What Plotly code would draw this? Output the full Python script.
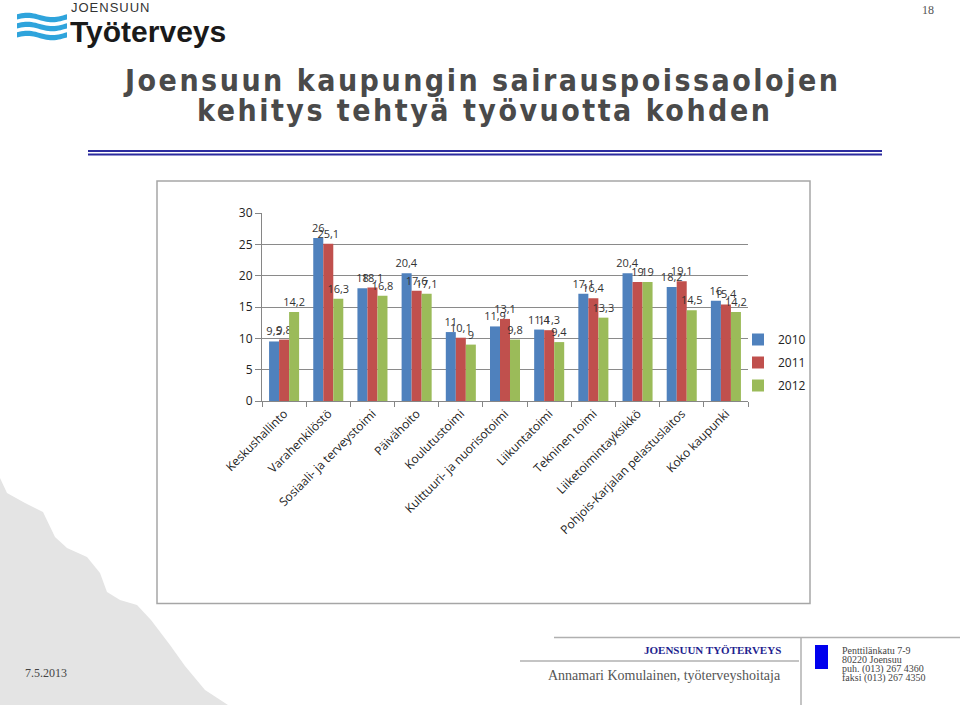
import math
import plotly.graph_objects as go

# ---------------- data ----------------
categories = [
    "Keskushallinto", "Varahenkilöstö", "Sosiaali- ja terveystoimi", "Päivähoito",
    "Koulutustoimi", "Kulttuuri- ja nuorisotoimi", "Liikuntatoimi", "Tekninen toimi",
    "Liiketoimintayksikkö", "Pohjois-Karjalan pelastuslaitos", "Koko kaupunki",
]
values_2010 = [9.5, 26, 18, 20.4, 11, 11.9, 11.4, 17.1, 20.4, 18.2, 16]
values_2011 = [9.8, 25.1, 18.1, 17.6, 10.1, 13.1, 11.3, 16.4, 19, 19.1, 15.4]
values_2012 = [14.2, 16.3, 16.8, 17.1, 9, 9.8, 9.4, 13.3, 19, 14.5, 14.2]
series_names = ["2010", "2011", "2012"]
series_colors = ["#4f81bd", "#c0504d", "#9bbb59"]
y_ticks = [0, 5, 10, 15, 20, 25, 30]

W, H = 960, 705
L, R, T, B = 262, 212, 213, 304
PW, PH = W - L - R, H - T - B


def fx(x):
    return (x - L) / PW


def fy(y):
    return (H - B - y) / PH


def fmt(v):
    return ("%g" % v).replace(".", ",")


fig = go.Figure()
for name, vals, col in zip(series_names, [values_2010, values_2011, values_2012], series_colors):
    fig.add_trace(go.Bar(
        x=categories, y=vals, name=name, legendgroup=name,
        marker=dict(color=col, line=dict(width=0)),
        text=[fmt(v) for v in vals], textposition="outside", textangle=0,
        constraintext="none", cliponaxis=False,
        textfont=dict(family="Open Sans", size=11, color="#333333"),
    ))

fig.update_layout(
    width=W, height=H, margin=dict(l=L, r=R, t=T, b=B, pad=0),
    paper_bgcolor="white", plot_bgcolor="white",
    barmode="group", bargap=0.32, bargroupgap=0,
    showlegend=True,
    legend=dict(x=fx(738), y=fy(325), xanchor="left", yanchor="top",
                font=dict(family="Open Sans", size=12, color="#222222"),
                tracegroupgap=4, bgcolor="rgba(0,0,0,0)"),
    xaxis=dict(showgrid=False, showline=True, linecolor="#868686", linewidth=1,
               ticks="outside", ticklen=5, tickcolor="#868686", tickson="boundaries",
               tickangle=-45, tickfont=dict(family="Open Sans", size=12, color="#222222")),
    yaxis=dict(range=[0, 30], tickvals=y_ticks, showgrid=True, gridcolor="#8a8a8a", gridwidth=1,
               showline=True, linecolor="#868686", linewidth=1, zeroline=False,
               ticks="outside", ticklen=6, tickcolor="#868686",
               tickfont=dict(family="Open Sans", size=12, color="#222222")),
)

shapes = []
annotations = []

# chart frame
shapes.append(dict(type="rect", xref="paper", yref="paper",
                   x0=fx(157), x1=fx(810), y0=fy(181), y1=fy(603.5),
                   line=dict(color="#a6a6a6", width=1.5), fillcolor="rgba(0,0,0,0)", layer="below"))

# header double line
for yy in (151, 154.5):
    shapes.append(dict(type="line", xref="paper", yref="paper",
                       x0=fx(88), x1=fx(882), y0=fy(yy), y1=fy(yy),
                       line=dict(color="#2b2b9e", width=2)))

# title
title_font = dict(family="Liberation Sans Narrow, DejaVu Sans Condensed, Liberation Sans", size=30, color="#4a4a4a")
annotations.append(dict(xref="paper", yref="paper", x=fx(481), y=fy(80), showarrow=False,
                        text='<b><span style="letter-spacing:2.5px">Joensuun kaupungin sairauspoissaolojen</span></b>',
                        font=title_font, xanchor="center", yanchor="middle"))
annotations.append(dict(xref="paper", yref="paper", x=fx(484), y=fy(110), showarrow=False,
                        text='<b><span style="letter-spacing:2.5px">kehitys tehtyä työvuotta kohden</span></b>',
                        font=title_font, xanchor="center", yanchor="middle"))

# logo
annotations.append(dict(xref="paper", yref="paper", x=fx(69), y=fy(7.5), showarrow=False,
                        text='<span style="letter-spacing:1px">JOENSUUN</span>',
                        font=dict(family="Liberation Sans", size=13, color="#333333"),
                        xanchor="left", yanchor="middle"))
annotations.append(dict(xref="paper", yref="paper", x=fx(68), y=fy(31), showarrow=False,
                        text="<b>Työterveys</b>",
                        font=dict(family="Liberation Sans", size=30, color="#1a1a1a"),
                        xanchor="left", yanchor="middle"))
for i in range(3):
    yc = 17.5 + 9 * i
    top = []
    bot = []
    n = 24
    for k in range(n + 1):
        xx = 17 + 50 * k / n
        dy = -2.2 * math.sin(2 * math.pi * (xx - 17) / 50 + 0.3)
        top.append((xx, yc - 2.6 + dy))
        bot.append((xx, yc + 2.6 + dy))
    pts = top + bot[::-1]
    path = "M " + " L ".join("%.5f,%.5f" % (fx(a), fy(b)) for a, b in pts) + " Z"
    shapes.append(dict(type="path", xref="paper", yref="paper", path=path,
                       fillcolor="#2fa4dc", line=dict(width=0)))

# slide number
annotations.append(dict(xref="paper", yref="paper", x=fx(928), y=fy(10), showarrow=False,
                        text="18", font=dict(family="Liberation Serif", size=12, color="#555555"),
                        xanchor="center", yanchor="middle"))

# footer grey wave shape
grey_pts = [(0, 478), (7, 493), (25, 503), (43, 512), (55, 537), (67, 548), (87, 557),
            (100, 573), (107, 592), (120, 600), (137, 605), (151, 620), (170, 645),
            (185, 666), (205, 690), (228, 705), (0, 705)]
path = "M " + " L ".join("%.5f,%.5f" % (fx(a), fy(b)) for a, b in grey_pts) + " Z"
shapes.append(dict(type="path", xref="paper", yref="paper", path=path,
                   fillcolor="#e4e4e4", line=dict(width=0), layer="below"))
annotations.append(dict(xref="paper", yref="paper", x=fx(23), y=fy(673), showarrow=False,
                        text="7.5.2013", font=dict(family="Liberation Serif", size=12, color="#444444"),
                        xanchor="left", yanchor="middle"))

# footer lines
shapes.append(dict(type="line", xref="paper", yref="paper", x0=fx(554), x1=fx(960), y0=fy(637.5), y1=fy(637.5),
                   line=dict(color="#b0b0b0", width=1.5)))
shapes.append(dict(type="line", xref="paper", yref="paper", x0=fx(520), x1=fx(799), y0=fy(661), y1=fy(661),
                   line=dict(color="#b0b0b0", width=1.5)))
shapes.append(dict(type="line", xref="paper", yref="paper", x0=fx(801), x1=fx(801), y0=fy(637.5), y1=fy(705),
                   line=dict(color="#b0b0b0", width=1.5)))
shapes.append(dict(type="rect", xref="paper", yref="paper", x0=fx(815), x1=fx(828), y0=fy(645), y1=fy(669),
                   fillcolor="#0000ee", line=dict(width=0)))
annotations.append(dict(xref="paper", yref="paper", x=fx(783), y=fy(650), showarrow=False,
                        text="<b>JOENSUUN TYÖTERVEYS</b>",
                        font=dict(family="Liberation Serif", size=11, color="#1f1f8f"),
                        xanchor="right", yanchor="middle"))
annotations.append(dict(xref="paper", yref="paper", x=fx(783), y=fy(675), showarrow=False,
                        text="Annamari Komulainen, työterveyshoitaja",
                        font=dict(family="Liberation Serif", size=14, color="#555555"),
                        xanchor="right", yanchor="middle"))
addr = ["Penttilänkatu 7-9", "80220 Joensuu", "puh. (013) 267 4360", "faksi (013) 267 4350"]
for i, line in enumerate(addr):
    annotations.append(dict(xref="paper", yref="paper", x=fx(840), y=fy(650.5 + 9 * i), showarrow=False,
                            text=line, font=dict(family="Liberation Serif", size=10, color="#444444"),
                            xanchor="left", yanchor="middle"))

fig.update_layout(shapes=shapes, annotations=annotations)
fig.write_html("out.html")
